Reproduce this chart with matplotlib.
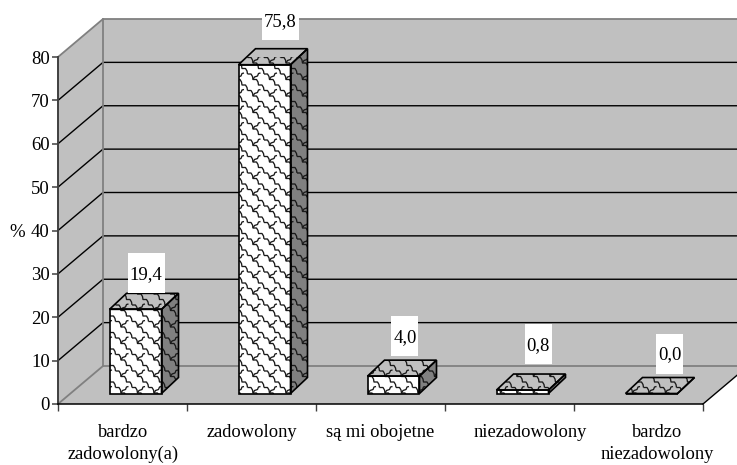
import matplotlib
matplotlib.use("Agg")
import matplotlib.pyplot as plt
from matplotlib.collections import LineCollection
from matplotlib.patches import Polygon, Rectangle

plt.rcParams["font.family"] = ["Liberation Serif", "DejaVu Serif"]

categories = ["bardzo\nzadowolony(a)", "zadowolony", "są mi obojetne", "niezadowolony", "bardzo\nniezadowolony"]
values = [19.4, 75.8, 4.0, 0.8, 0.0]
value_labels = ["19,4", "75,8", "4,0", "0,8", "0,0"]
y_ticks = [0, 10, 20, 30, 40, 50, 60, 70, 80]

W, H = 737, 465
L, R, T, B = 58, 703, 57, 404

fig = plt.figure(figsize=(W / 100, H / 100), dpi=100)
ax = fig.add_axes([L / W, 1 - B / H, (R - L) / W, (B - T) / H])
ax.set_xlim(0, len(categories))
ax.set_ylim(0, 80)

# pixel sizes to data units
px_x = len(categories) / (R - L)
px_y = 80 / (B - T)

wall_dx, wall_dy = 45 * px_x, 38 * px_y
depth_dx, depth_dy = 17 * px_x, 16 * px_y
bar_dx, bar_dy = 51.5 * px_x, 10.5 * px_y
bar_w = 52 * px_x

GREY = "#c0c0c0"
EDGE = "#808080"
nx = len(categories)


def face(points, color, z, **kw):
    p = Polygon(points, closed=True, facecolor=color, edgecolor=kw.pop("ec", "none"), zorder=z,
                clip_on=False, **kw)
    ax.add_patch(p)
    return p


def texture(patch, z, lw=1.0):
    # wavy weave, tiled over the whole figure and clipped to the face
    tile = [
        [(0, 0), (3.5, 0), (5, 2.5), (5.5, 5.5), (9, 5.5), (10.5, 8), (11, 11), (14.5, 11), (16, 13.5), (16.5, 16.5)],
        [(5.5, 5.5), (7, 3), (10, 2), (11, -0.5), (13, -1)],
    ]
    period = 16.5
    segs = []
    for i in range(-2, int(W / period) + 2):
        for j in range(-2, int(H / period) + 2):
            for line in tile:
                segs.append([((x + i * period - L) * px_x, (B - (y + j * period + 8)) * px_y)
                             for x, y in line])
    lc = LineCollection(segs, colors="#1a1a1a", linewidths=lw, zorder=z)
    ax.add_collection(lc)
    lc.set_clip_path(patch)


# walls and floor
face([(0, 0), (wall_dx, wall_dy), (wall_dx, 80 + wall_dy), (0, 80)], GREY, 0)
face([(wall_dx, wall_dy), (nx + wall_dx, wall_dy), (nx + wall_dx, 80 + wall_dy), (wall_dx, 80 + wall_dy)], GREY, 0)
face([(0, 0), (nx, 0), (nx + wall_dx, wall_dy), (wall_dx, wall_dy)], GREY, 0)

for v in y_ticks:
    c = EDGE if v in (0, 80) else "black"
    lw = 1.3 if v in (0, 80) else 1.0
    ax.plot([0, wall_dx, nx + wall_dx], [v, v + wall_dy, v + wall_dy], color=c, lw=lw, zorder=1, clip_on=False)
ax.plot([wall_dx, wall_dx], [wall_dy, 80 + wall_dy], color=EDGE, lw=1.3, zorder=1, clip_on=False)
ax.plot([nx, nx + wall_dx], [0, wall_dy], color="black", lw=1.0, zorder=1, clip_on=False)

# label boxes do not sit at the same place on every bar (pixels)
box_shift = [2, 7, 3, 7, 10]
box_gap = [0, 9, 4, 10, 4]

# bars
for i, v in enumerate(values):
    x0 = i + bar_dx
    x1 = x0 + bar_w
    y0 = bar_dy
    y1 = y0 + v
    z = 3 + i
    front = [(x0, y0), (x1, y0), (x1, y1), (x0, y1)]
    side = [(x1, y0), (x1 + depth_dx, y0 + depth_dy), (x1 + depth_dx, y1 + depth_dy), (x1, y1)]
    top = [(x0, y1), (x1, y1), (x1 + depth_dx, y1 + depth_dy), (x0 + depth_dx, y1 + depth_dy)]
    for pts, col in ((side, "#808080"), (front, "white"), (top, GREY)):
        p = face(pts, col, z)
        texture(p, z + 0.1, lw=0.95)
        face(pts, "none", z + 0.2, ec="black", lw=1.2)

    # white label box above the back edge of the top face
    cx = x0 + (bar_w + depth_dx) / 2 + box_shift[i] * px_x
    by = y1 + depth_dy + box_gap[i] * px_y
    bw = (37 if len(value_labels[i]) == 4 else 27) * px_x
    ax.add_patch(Rectangle((cx - bw / 2, by), bw, 40 * px_y, facecolor="white", edgecolor="none",
                           zorder=20, clip_on=False))
    ax.text(cx, by + 18.5 * px_y, value_labels[i], ha="center", va="center", fontsize=13.5, zorder=21)

# axes
for s in ("top", "right"):
    ax.spines[s].set_visible(False)
ax.spines["left"].set_color("#404040")
ax.spines["left"].set_linewidth(1.4)
ax.spines["left"].set_zorder(2)
ax.spines["bottom"].set_color("black")
ax.spines["bottom"].set_linewidth(1.1)
ax.spines["bottom"].set_zorder(2)
ax.patch.set_alpha(0)

ax.set_yticks(y_ticks)
ax.tick_params(axis="y", length=4.5, width=1.1, color="#404040", labelsize=13.5, pad=1.5)
ax.set_xticks(range(nx + 1))
ax.set_xticklabels([])
ax.tick_params(axis="x", length=5, width=1.0, color="#404040")

label_shift = [1, 0, 0, 21, 19]
for i, c in enumerate(categories):
    ax.annotate(c, xy=(i + 0.5, 0), xycoords="data", xytext=(label_shift[i] * 0.72, -14.5), textcoords="offset points",
                ha="center", va="top", fontsize=13.3, linespacing=1.38, annotation_clip=False)

fig.text(17 / W, 1 - 232 / H, "%", ha="center", va="center", fontsize=13.5)

fig.savefig("out.png", dpi=100)
